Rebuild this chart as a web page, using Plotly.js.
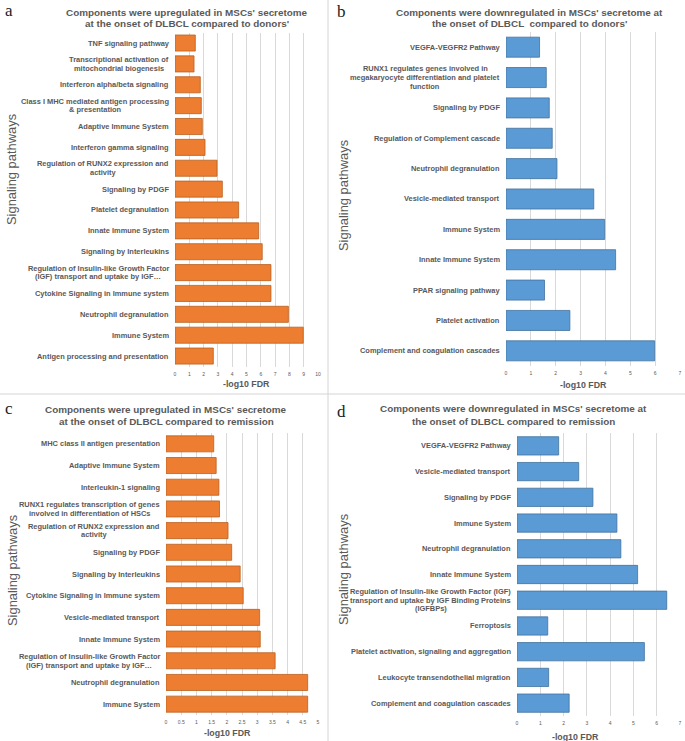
<!DOCTYPE html>
<html>
<head>
<meta charset="utf-8">
<script src="https://cdn.plot.ly/plotly-3.0.1.min.js"></script>
<style>html,body{margin:0;padding:0;background:#fff;}#chart{width:685px;height:741px;}</style>
</head>
<body>
<div id="chart"></div>
<script>
// ---- Data ----
const catsA = [
  "TNF signaling pathway",
  "Transcriptional activation of<br>mitochondrial biogenesis",
  "Interferon alpha/beta signaling",
  "Class I MHC mediated antigen processing<br>& presentation",
  "Adaptive Immune System",
  "Interferon gamma signaling",
  "Regulation of RUNX2 expression and<br>activity",
  "Signaling by PDGF",
  "Platelet degranulation",
  "Innate Immune System",
  "Signaling by Interleukins",
  "Regulation of Insulin-like Growth Factor<br>(IGF) transport and uptake by IGF…",
  "Cytokine Signaling in Immune system",
  "Neutrophil degranulation",
  "Immune System",
  "Antigen processing and presentation"
];
const valsA = [1.42, 1.33, 1.77, 1.84, 1.91, 2.10, 2.94, 3.31, 4.45, 5.85, 6.10, 6.71, 6.71, 7.93, 8.97, 2.68];

const catsB = [
  "VEGFA-VEGFR2 Pathway",
  "RUNX1 regulates genes involved in<br>megakaryocyte differentiation and platelet<br>function",
  "Signaling by PDGF",
  "Regulation of Complement cascade",
  "Neutrophil degranulation",
  "Vesicle-mediated transport",
  "Immune System",
  "Innate Immune System",
  "PPAR signaling pathway",
  "Platelet activation",
  "Complement and coagulation cascades"
];
const valsB = [1.35, 1.62, 1.74, 1.86, 2.05, 3.53, 3.97, 4.41, 1.55, 2.57, 5.98];

const catsC = [
  "MHC class II antigen presentation",
  "Adaptive Immune System",
  "Interleukin-1 signaling",
  "RUNX1 regulates transcription of genes<br>involved in differentiation of HSCs",
  "Regulation of RUNX2 expression and<br>activity",
  "Signaling by PDGF",
  "Signaling by Interleukins",
  "Cytokine Signaling in Immune system",
  "Vesicle-mediated transport",
  "Innate Immune System",
  "Regulation of Insulin-like Growth Factor<br>(IGF) transport and uptake by IGF…",
  "Neutrophil degranulation",
  "Immune System"
];
const valsC = [1.57, 1.65, 1.74, 1.76, 2.04, 2.16, 2.44, 2.54, 3.08, 3.10, 3.59, 4.66, 4.66];

const catsD = [
  "VEGFA-VEGFR2 Pathway",
  "Vesicle-mediated transport",
  "Signaling by PDGF",
  "Immune System",
  "Neutrophil degranulation",
  "Innate Immune System",
  "Regulation of Insulin-like Growth Factor (IGF)<br>transport and uptake by IGF Binding Proteins<br>(IGFBPs)",
  "Ferroptosis",
  "Platelet activation, signaling and aggregation",
  "Leukocyte transendothelial migration",
  "Complement and coagulation cascades"
];
const valsD = [1.79, 2.65, 3.26, 4.29, 4.46, 5.18, 6.43, 1.32, 5.47, 1.36, 2.24];

const titles = [
  ["Components were upregulated in MSCs' secretome", "at the onset of DLBCL compared to donors'"],
  ["Components were downregulated in MSCs' secretome at", "the onset of DLBCL  compared to donors'"],
  ["Components were upregulated in MSCs' secretome", "at the onset of DLBCL compared to remission"],
  ["Components were downregulated in MSCs' secretome at", "the onset of DLBCL compared to remission"]
];
const letters = ["a", "b", "c", "d"];
const xTitle = "-log10 FDR";
const yTitle = "Signaling pathways";

// ---- Layout helpers ----
const W = 685, H = 741;
const px = v => v / W;
const py = v => 1 - v / H;
const ORANGE = "#ED7D31", ORANGE_LINE = "#B9611F";
const BLUE = "#5B9BD5", BLUE_LINE = "#41719C";
const GREY = "#595959";
const FONT = "Liberation Sans, Arial, sans-serif";
const LABEL_SIZE = 7.45;
const LABEL_LH = 8.7;

const ctx = document.createElement("canvas").getContext("2d");
ctx.font = "bold " + LABEL_SIZE + "px 'Liberation Sans', Arial, sans-serif";
const textW = s => ctx.measureText(s).width;

const panels = [
  {cats: catsA, vals: valsA, color: ORANGE, line: ORANGE_LINE, x0: 175, x1: 318, y0: 32.6, y1: 366.5, max: 10, dtick: 1, width: 0.77,
   title: [187, 12, 23.5], letter: [9, 10], xt: [246, 384], yt: [12, 170]},
  {cats: catsB, vals: valsB, color: BLUE, line: BLUE_LINE, x0: 506, x1: 680, y0: 32, y1: 366, max: 7, dtick: 1, width: 0.66,
   title: [529, 12, 23.5], letter: [341, 11], xt: [583, 385], yt: [343, 196]},
  {cats: catsC, vals: valsC, color: ORANGE, line: ORANGE_LINE, x0: 166, x1: 318, y0: 433, y1: 715, max: 5, dtick: 0.5, width: 0.74,
   title: [166, 409, 421], letter: [9, 408], xt: [227, 733], yt: [12, 571]},
  {cats: catsD, vals: valsD, color: BLUE, line: BLUE_LINE, x0: 517, x1: 680, y0: 433, y1: 716, max: 7, dtick: 1, width: 0.71,
   title: [513, 408, 421], letter: [341, 411], xt: [575, 737], yt: [343, 570]}
];

const data = [];
const layout = {
  width: W, height: H,
  margin: {l: 0, r: 0, t: 0, b: 0},
  paper_bgcolor: "#fff", plot_bgcolor: "#fff",
  showlegend: false,
  font: {family: FONT, color: GREY},
  annotations: [],
  shapes: [
    {type: "line", xref: "paper", yref: "paper", x0: px(328), x1: px(328), y0: 0, y1: 1, line: {color: "#D4D4D4", width: 1}},
    {type: "line", xref: "paper", yref: "paper", x0: 0, x1: 1, y0: py(394), y1: py(394), line: {color: "#D4D4D4", width: 1}}
  ]
};

panels.forEach((p, i) => {
  const n = i === 0 ? "" : String(i + 1);
  const xa = "x" + n, ya = "y" + n;
  data.push({
    type: "bar", orientation: "h",
    x: p.vals, y: p.cats,
    xaxis: xa, yaxis: ya,
    width: p.width,
    marker: {color: p.color, line: {color: p.line, width: 0.8}},
    hoverinfo: "x+y"
  });
  layout["xaxis" + n] = {
    domain: [px(p.x0), px(p.x1)], anchor: ya,
    range: [0, p.max], dtick: p.dtick, tick0: 0,
    showgrid: true, gridcolor: "#D9D9D9", gridwidth: 1,
    zeroline: false, showline: false, ticks: "",
    ticklabelstandoff: 3,
    tickfont: {size: 5, color: GREY, family: FONT},
    fixedrange: true
  };
  layout["yaxis" + n] = {
    domain: [py(p.y1), py(p.y0)], anchor: xa,
    type: "category", autorange: "reversed",
    showticklabels: false, showgrid: false, zeroline: false, showline: false, ticks: "",
    fixedrange: true
  };
  // category labels: lines centred on the block, block right-aligned to the axis
  p.cats.forEach(c => {
    const lines = c.split("<br>");
    const k = lines.length;
    const maxW = Math.max(...lines.map(textW));
    const cx = p.x0 - 6 - maxW / 2;
    lines.forEach((ln, j) => {
      layout.annotations.push({
        xref: "paper", yref: ya, x: px(cx), y: c,
        xanchor: "center", yanchor: "middle", align: "center",
        yshift: ((k - 1) / 2 - j) * LABEL_LH,
        text: "<b>" + ln + "</b>", showarrow: false,
        font: {size: LABEL_SIZE, color: GREY, family: FONT}
      });
    });
  });
  // panel title (two lines)
  titles[i].forEach((t, j) => {
    layout.annotations.push({
      xref: "paper", yref: "paper", x: px(p.title[0]), y: py(p.title[1 + j]),
      xanchor: "center", yanchor: "middle",
      text: "<b>" + t + "</b>", showarrow: false,
      font: {size: 9.9, color: GREY, family: FONT}
    });
  });
  // panel letter
  layout.annotations.push({
    xref: "paper", yref: "paper", x: px(p.letter[0]), y: py(p.letter[1]),
    xanchor: "center", yanchor: "middle",
    text: letters[i], showarrow: false,
    font: {size: 17, color: "#222", family: "Liberation Serif, Times New Roman, serif"}
  });
  // x axis title
  layout.annotations.push({
    xref: "paper", yref: "paper", x: px(p.xt[0]), y: py(p.xt[1]),
    xanchor: "center", yanchor: "middle",
    text: "<b>" + xTitle + "</b>", showarrow: false,
    font: {size: 8.8, color: GREY, family: FONT}
  });
  // y axis title
  layout.annotations.push({
    xref: "paper", yref: "paper", x: px(p.yt[0]), y: py(p.yt[1]),
    xanchor: "center", yanchor: "middle", textangle: -90,
    text: yTitle, showarrow: false,
    font: {size: 12.9, color: GREY, family: FONT}
  });
});

Plotly.newPlot("chart", data, layout, {displayModeBar: false, staticPlot: true});
</script>
</body>
</html>
